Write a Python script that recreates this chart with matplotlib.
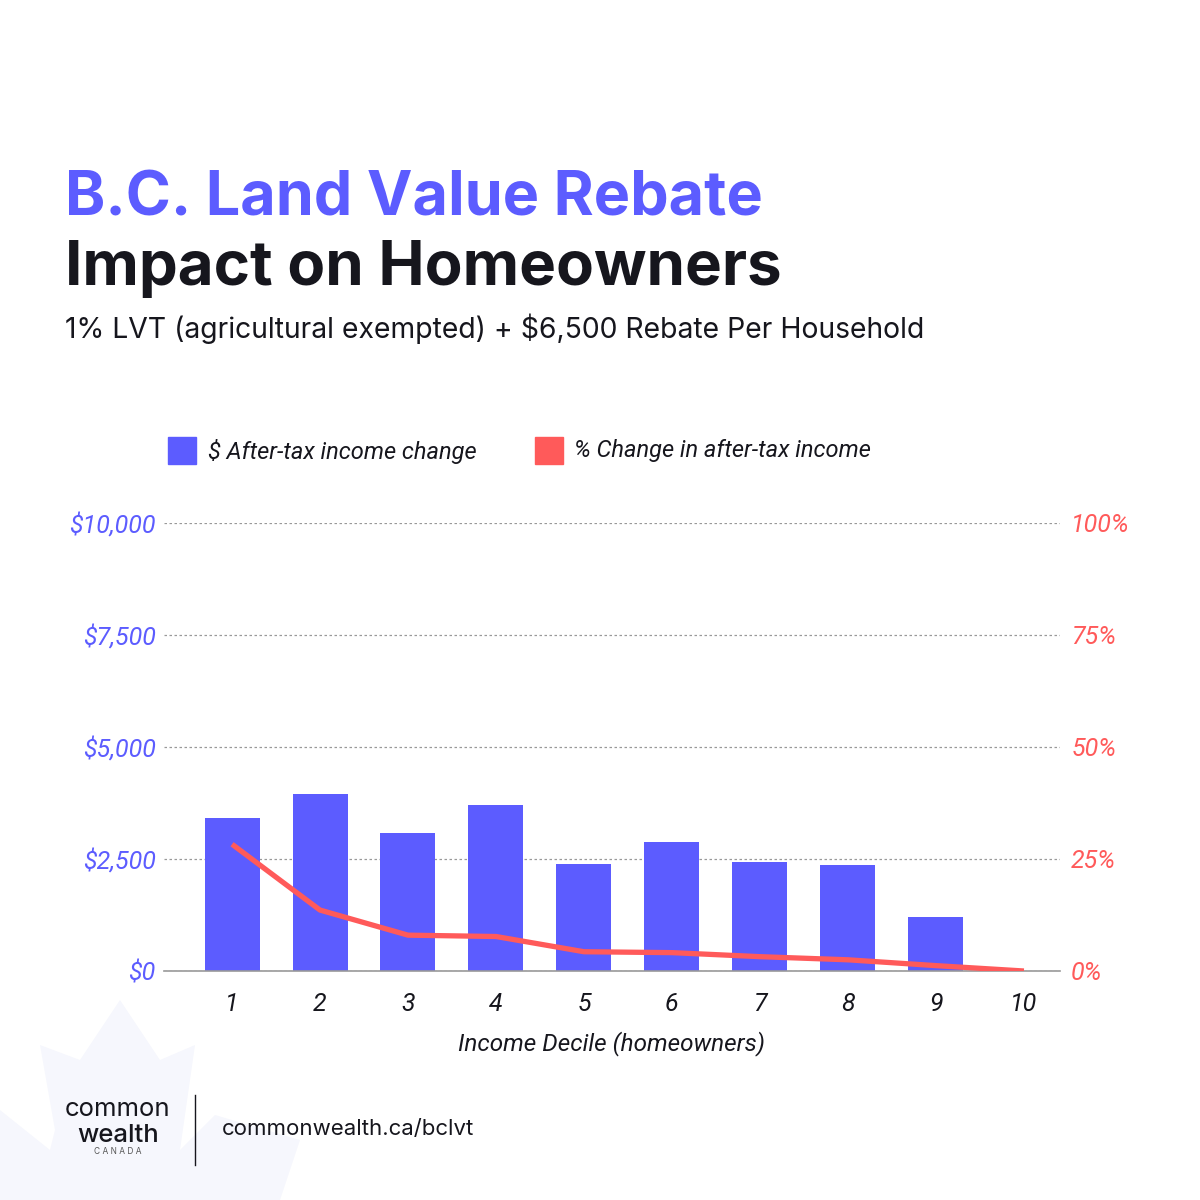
import matplotlib
matplotlib.use("Agg")
from matplotlib import pyplot as plt
from matplotlib.patches import Rectangle, Polygon
import numpy as np

# data
deciles = [1, 2, 3, 4, 5, 6, 7, 8, 9, 10]
dollar_change = [3410, 3960, 3070, 3700, 2390, 2890, 2440, 2360, 1210, 0]
pct_change = [28.3, 13.6, 8.0, 7.7, 4.3, 4.1, 3.2, 2.5, 1.2, 0.0]
left_ticks = [0, 2500, 5000, 7500, 10000]
left_labels = ["$0", "$2,500", "$5,000", "$7,500", "$10,000"]
right_ticks = [0, 25, 50, 75, 100]
right_labels = ["0%", "25%", "50%", "75%", "100%"]

BLUE = "#5c5cff"
RED = "#ff5a5a"
DARK = "#16161d"
FONT = "Inter"
IFONT = "Roboto"

fig = plt.figure(figsize=(12, 12), dpi=100)
fig.patch.set_facecolor("white")

# faint maple leaf in the corner (decoration)
leaf = [(40, 1045), (80, 1060), (120, 1000), (160, 1060), (195, 1045),
        (180, 1150), (215, 1115), (300, 1140), (280, 1200), (0, 1200),
        (0, 1110), (50, 1150), (55, 1130)]
fig.patches.append(Polygon([(x / 1200, 1 - y / 1200) for x, y in leaf],
                           closed=True, transform=fig.transFigure,
                           facecolor="#f6f7fd", edgecolor="none", zorder=0))

# titles
fig.text(65 / 1200, 1 - 215 / 1200, "B.C. Land Value Rebate", color=BLUE,
         fontsize=44, fontweight="bold", family=FONT, va="baseline")
fig.text(65 / 1200, 1 - 285 / 1200, "Impact on Homeowners", color=DARK,
         fontsize=44.5, fontweight="bold", family=FONT, va="baseline")
fig.text(65 / 1200, 1 - 338 / 1200, "1% LVT (agricultural exempted) + $6,500 Rebate Per Household",
         color=DARK, fontsize=20.4, family=FONT, va="baseline")

# legend
fig.patches.append(Rectangle((168 / 1200, 1 - 464 / 1200), 28 / 1200, 27 / 1200,
                             transform=fig.transFigure, color=BLUE))
fig.text(208 / 1200, 1 - 451 / 1200, "$ After-tax income change", color=DARK,
         fontsize=17, style="italic", family=IFONT, va="center")
fig.patches.append(Rectangle((535 / 1200, 1 - 464 / 1200), 28 / 1200, 27 / 1200,
                             transform=fig.transFigure, color=RED))
fig.text(574 / 1200, 1 - 451 / 1200, "% Change in after-tax income", color=DARK,
         fontsize=17, style="italic", family=IFONT, va="center")

ax = fig.add_axes([164 / 1200, 1 - 971 / 1200, 896 / 1200, 448 / 1200])
ax.bar(deciles, dollar_change, width=0.625, color=BLUE, zorder=2)
ax.set_xlim(0.227, 10.41)
ax.set_ylim(0, 10000)
ax.set_yticks(left_ticks)
ax.set_yticklabels(left_labels)
ax.set_xticks(deciles)
for s in ["top", "right", "left"]:
    ax.spines[s].set_visible(False)
ax.spines["bottom"].set_color("#999999")
ax.spines["bottom"].set_linewidth(1.2)
ax.yaxis.grid(True, linestyle=(0, (2, 2)), color="#999999", linewidth=0.9, zorder=0)
ax.set_axisbelow(True)
ax.tick_params(axis="both", length=0)
ax.tick_params(axis="y", pad=6, labelcolor=BLUE)
ax.tick_params(axis="x", pad=15, labelcolor=DARK)
for lab in ax.get_yticklabels() + ax.get_xticklabels():
    lab.set_fontstyle("italic")
    lab.set_fontsize(18)
    lab.set_family(IFONT)
ax.set_xlabel("Income Decile (homeowners)", fontsize=17.5, style="italic",
              family=IFONT, color=DARK, labelpad=11)

ax2 = ax.twinx()
ax2.plot(deciles, pct_change, color=RED, linewidth=3.8, solid_capstyle="butt", zorder=3)
ax2.set_ylim(0, 100)
ax2.set_yticks(right_ticks)
ax2.set_yticklabels(right_labels)
for s in ["top", "right", "left", "bottom"]:
    ax2.spines[s].set_visible(False)
ax2.tick_params(axis="y", length=0, pad=8, labelcolor=RED)
for lab in ax2.get_yticklabels():
    lab.set_fontstyle("italic")
    lab.set_fontsize(18)
    lab.set_family(IFONT)

# footer / logo
fig.text(118 / 1200, 1 - 1110 / 1200, "common", color=DARK, fontsize=18.5,
         family=FONT, ha="center", va="center")
fig.text(118 / 1200, 1 - 1135 / 1200, "wealth", color=DARK, fontsize=18.5,
         family=FONT, fontweight="medium", ha="center", va="center")
fig.text(118 / 1200, 1 - 1152 / 1200, "C A N A D A", color="#555555", fontsize=6,
         family=FONT, ha="center", va="center")
fig.add_artist(plt.Line2D([195 / 1200, 195 / 1200], [1 - 1095 / 1200, 1 - 1165 / 1200],
                          color=DARK, linewidth=1, transform=fig.transFigure))
fig.text(222 / 1200, 1 - 1129 / 1200, "commonwealth.ca/bclvt", color=DARK,
         fontsize=16, family=FONT, va="center")

fig.savefig("out.png", dpi=100, facecolor="white")
